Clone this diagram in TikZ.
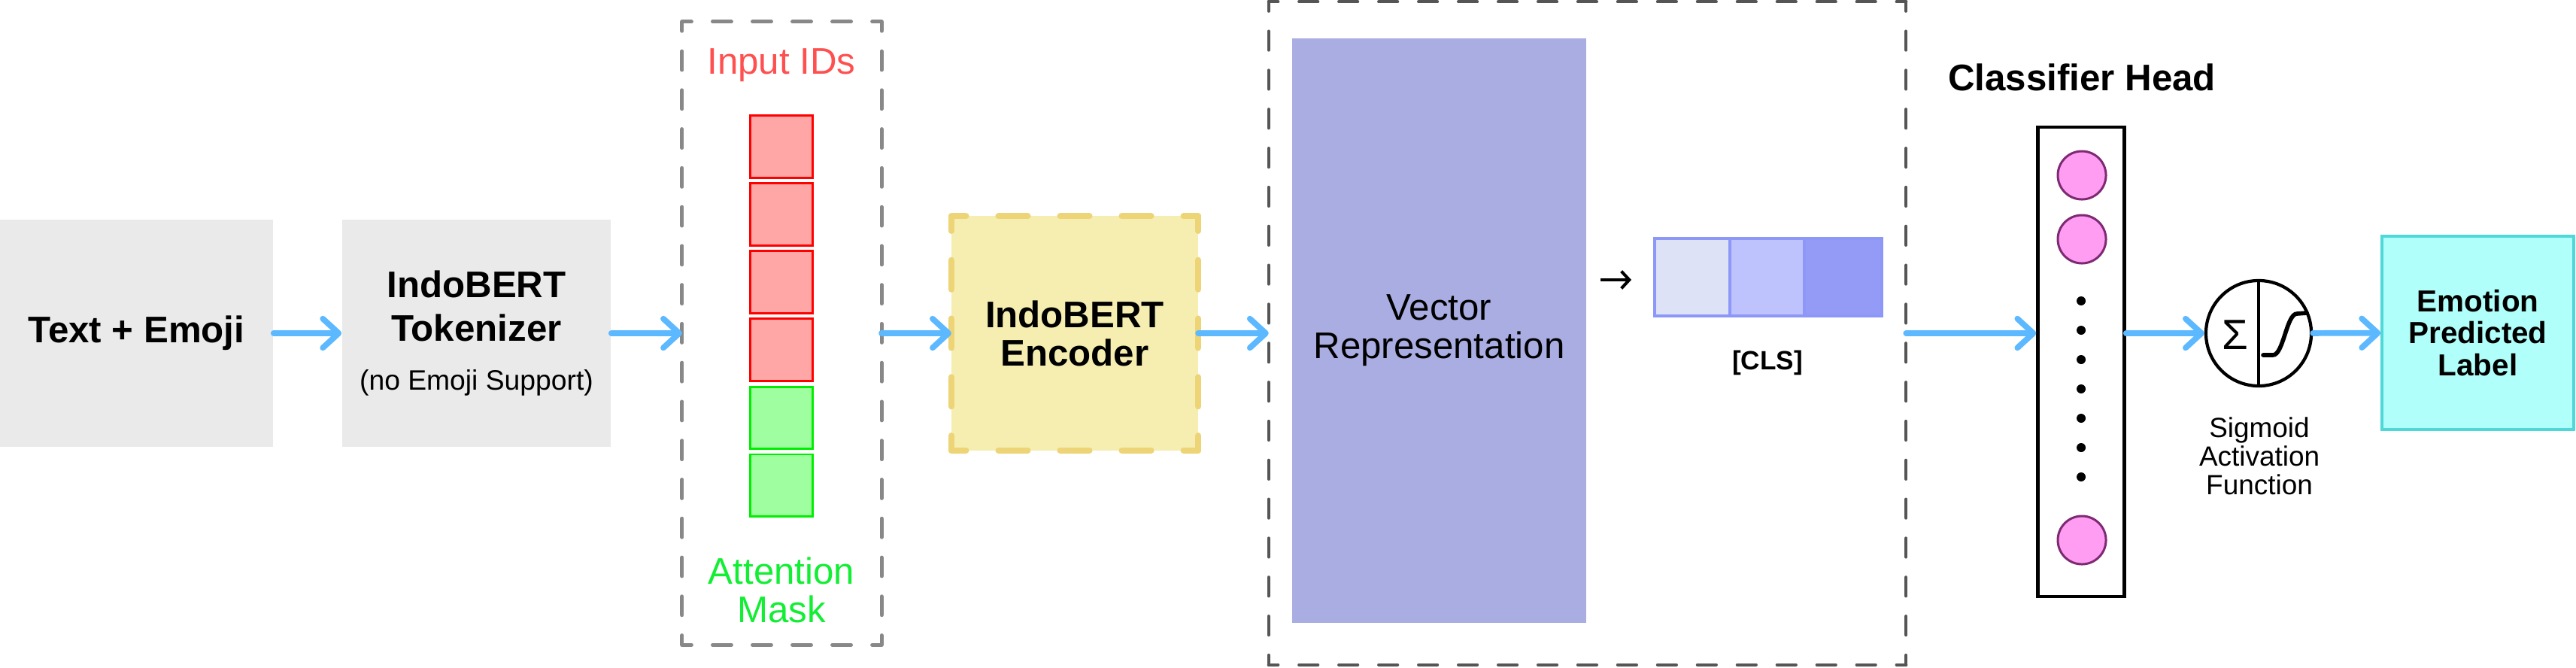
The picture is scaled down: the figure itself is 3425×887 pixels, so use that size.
\documentclass[tikz,border=0pt]{standalone}
\usepackage{fontspec}
\setmainfont{Liberation Sans}
\usetikzlibrary{arrows.meta}
\definecolor{boxgray}{HTML}{EAEAEA}
\definecolor{arrowblue}{HTML}{5CB8FF}
\definecolor{idred}{HTML}{FF5050}
\definecolor{sqred}{HTML}{FF0000}
\definecolor{sqredfill}{HTML}{FFA6A6}
\definecolor{sqgreen}{HTML}{00EE00}
\definecolor{sqgreenfill}{HTML}{9FFFA0}
\definecolor{maskgreen}{HTML}{11EE33}
\definecolor{encfill}{HTML}{F5EEB0}
\definecolor{encborder}{HTML}{EDD477}
\definecolor{vecfill}{HTML}{A9ADE2}
\definecolor{clsa}{HTML}{DEE2F7}
\definecolor{clsb}{HTML}{BEC2FD}
\definecolor{clsc}{HTML}{939BF7}
\definecolor{clsborder}{HTML}{8C97F8}
\definecolor{neuronfill}{HTML}{FF9DF3}
\definecolor{neuronborder}{HTML}{7E2A73}
\definecolor{emofill}{HTML}{B0FFFA}
\definecolor{emoborder}{HTML}{4ED8D8}
\definecolor{dashgray}{HTML}{888888}
\definecolor{darkdash}{HTML}{555555}
\begin{document}
\begin{tikzpicture}[x=0.01cm,y=-0.01cm,
  flow/.style={draw=arrowblue, line width=2.2pt, line cap=round, -{Straight Barb[length=6pt,width=11pt,round]}},
  graybox/.style={fill=boxgray, inner sep=0pt, align=center, minimum height=3.01cm},
  bigfont/.style={font=\fontsize{14}{16.5}\selectfont},
  boldfont/.style={font=\bfseries\fontsize{14}{16.5}\selectfont},
  tok/.style={draw=sqred, fill=sqredfill, line width=0.85pt, minimum size=0.82cm, inner sep=0pt},
  msk/.style={draw=sqgreen, fill=sqgreenfill, line width=0.85pt, minimum size=0.82cm, inner sep=0pt},
  clscell/.style={draw=clsborder, line width=1pt, minimum height=1.03cm, inner sep=0pt},
  neuron/.style={circle, draw=neuronborder, fill=neuronfill, line width=0.85pt, minimum size=0.64cm, inner sep=0pt},
  dotn/.style={circle, fill=black, minimum size=0.12cm, inner sep=0pt},
  frame/.style={inner sep=0pt, outer sep=0pt},
  sidedash/.style 2 args={line cap=round, dash pattern=on #1 off #2, dash phase=0.5*#1},
  graydash/.style={draw=dashgray, line width=1.4pt},
  darkdashed/.style={draw=darkdash, line width=1.2pt},
  encdash/.style={draw=encborder, line width=2.3pt}]
\useasboundingbox (0,0) rectangle (3425,887);

% input and tokenizer
\node[graybox, minimum width=3.63cm, boldfont] (b1) at (181.5,443) {Text + Emoji};
\node[graybox, minimum width=3.57cm, boldfont] (b2) at (633.5,443)
  {IndoBERT\\Tokenizer\\[2pt]{\mdseries\fontsize{10.6}{12}\selectfont (no Emoji Support)}};

% input ids / attention mask
\node[frame, minimum width=2.65cm, minimum height=8.28cm] (ids) at (1039.5,443) {};
\draw[graydash, sidedash={7.1pt}{7.98pt}] (ids.north west) -- (ids.north east);
\draw[graydash, sidedash={7.1pt}{7.98pt}] (ids.south west) -- (ids.south east);
\draw[graydash, sidedash={7.1pt}{7.62pt}] (ids.north west) -- (ids.south west);
\draw[graydash, sidedash={7.1pt}{7.62pt}] (ids.north east) -- (ids.south east);
\node[text=idred, bigfont] (lbids) at (1039,87) {Input IDs};
\node[tok] (r1) at (1039,195) {};
\node[tok] (r2) at (1039,285) {};
\node[tok] (r3) at (1039,375) {};
\node[tok] (r4) at (1039,465) {};
\node[msk] (g1) at (1039,555.5) {};
\node[msk] (g2) at (1039,645) {};
\node[text=maskgreen, font=\fontsize{14}{14.5}\selectfont, align=center] (lbmask) at (1039,784) {Attention\\Mask};

% encoder
\node[frame, fill=encfill, minimum width=3.28cm, minimum height=3.11cm, align=center,
  font=\bfseries\fontsize{14}{14.5}\selectfont] (enc) at (1429,443) {IndoBERT\\Encoder};
\draw[encdash, sidedash={11.1pt}{12.23pt}] (enc.north west) -- (enc.north east);
\draw[encdash, sidedash={11.1pt}{12.23pt}] (enc.south west) -- (enc.south east);
\draw[encdash, sidedash={11.1pt}{11.02pt}] (enc.north west) -- (enc.south west);
\draw[encdash, sidedash={11.1pt}{11.02pt}] (enc.north east) -- (enc.south east);

% vector representation
\node[frame, minimum width=8.47cm, minimum height=8.81cm] (bigbox) at (2110.5,443) {};
\draw[darkdashed, sidedash={7.1pt}{7.96pt}] (bigbox.north west) -- (bigbox.north east);
\draw[darkdashed, sidedash={7.1pt}{7.96pt}] (bigbox.south west) -- (bigbox.south east);
\draw[darkdashed, sidedash={7.1pt}{7.64pt}] (bigbox.north west) -- (bigbox.south west);
\draw[darkdashed, sidedash={7.1pt}{7.64pt}] (bigbox.north east) -- (bigbox.south east);
\node[fill=vecfill, minimum width=3.91cm, minimum height=7.77cm, align=center, font=\fontsize{14}{14.5}\selectfont] (vec) at (1913.5,439.5) {Vector\\Representation};
\coordinate (sa) at (2128,372);
\coordinate (sb) at (2169,372);
\draw[line width=1.15pt, -{Straight Barb[length=3pt,width=6.5pt]}] (sa) -- (sb);
\node[clscell, fill=clsa, minimum width=1.00cm] (c1) at (2250,368.5) {};
\node[clscell, fill=clsb, minimum width=0.99cm] (c2) at (2349.5,368.5) {};
\node[clscell, fill=clsc, minimum width=1.03cm] (c3) at (2450.5,368.5) {};
\node[font=\bfseries\fontsize{10}{12}\selectfont] (clslbl) at (2350,482) {[CLS]};

% classifier head
\node[boldfont] (chead) at (2768,103) {Classifier Head};
\node[draw=black, line width=1.25pt, minimum width=1.15cm, minimum height=6.24cm, inner sep=0pt] (col) at (2767,481) {};
\node[neuron] (n1) at (2768,233) {};
\node[neuron] (n2) at (2768,318) {};
\node[neuron] (n3) at (2768,718) {};
\node[dotn] (d1) at (2767,400) {};
\node[dotn] (d2) at (2767,439) {};
\node[dotn] (d3) at (2767,478) {};
\node[dotn] (d4) at (2767,517) {};
\node[dotn] (d5) at (2767,556) {};
\node[dotn] (d6) at (2767,595) {};
\node[dotn] (d7) at (2767,634) {};

% sigmoid
\node[circle, draw=black, line width=1.2pt, minimum size=1.4cm, inner sep=0pt] (sig) at (3003,443) {};
\draw[line width=1.2pt] (sig.north) -- (sig.south);
\node[font=\fontsize{16}{16}\selectfont, inner sep=0pt] (sigma) at (2971.5,445.5) {Σ};
\draw[line width=1.6pt, line cap=round] (3009,472) -- (3022,472) .. controls (3036,472) and (3040,417) .. (3054,417) -- (3067,416);
\node[font=\fontsize{10.5}{10.8}\selectfont, align=center] (siglbl) at (3004,606) {Sigmoid\\Activation\\Function};

% output
\node[draw=emoborder, fill=emofill, line width=1pt, minimum width=2.55cm, minimum height=2.57cm, align=center,
  font=\bfseries\fontsize{11.5}{12.1}\selectfont] (emo) at (3294.5,442.5) {Emotion\\Predicted\\Label};

% connectors
\draw[flow] (b1) -- (b2);
\draw[flow] (b2) -- (ids);
\draw[flow] (ids) -- (enc);
\draw[flow] (enc) -- (bigbox);
\draw[flow] (bigbox.east) -- (bigbox.east -| col.west);
\draw[flow] (col.east |- sig.west) -- (sig.west);
\draw[flow] (sig) -- (emo);
\end{tikzpicture}
\end{document}
